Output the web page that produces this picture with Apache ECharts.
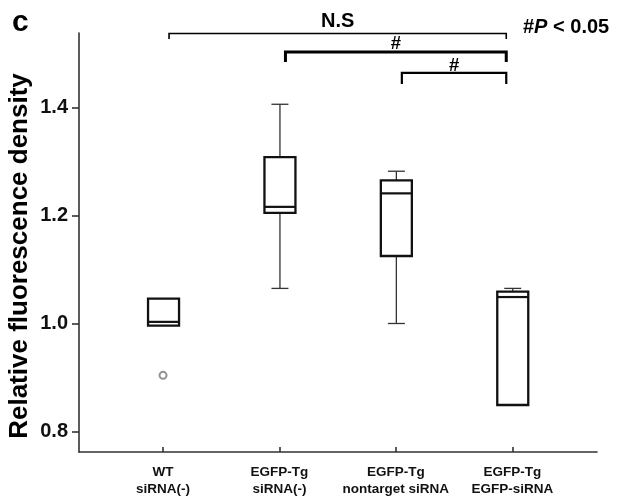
<!DOCTYPE html>
<html>
<head>
<meta charset="utf-8">
<script src="https://cdn.jsdelivr.net/npm/echarts@6/dist/echarts.min.js"></script>
<style>
html, body { margin: 0; padding: 0; background: #fff; }
#chart { width: 619px; height: 496px; }
</style>
</head>
<body>
<div id="chart"></div>
<script>
var groups = ['WT\nsiRNA(-)', 'EGFP-Tg\nsiRNA(-)', 'EGFP-Tg\nnontarget siRNA', 'EGFP-Tg\nEGFP-siRNA'];
// min, Q1, median, Q3, max
var boxStats = [
    [0.996, 0.996, 1.003, 1.046, 1.046],
    [1.065, 1.205, 1.216, 1.308, 1.406],
    [1.000, 1.125, 1.241, 1.265, 1.282],
    [0.849, 0.849, 1.049, 1.059, 1.065]
];
var outliers = [[0, 0.904]];
var yTicks = [0.8, 1.0, 1.2, 1.4];
// from group, to group, level
var brackets = [[0, 3, 1.537], [1, 3, 1.503], [2, 3, 1.464]];
var bracketLabels = ['N.S', '#', '#'];

var FONT = '"Liberation Sans", Arial, Helvetica, sans-serif';
var groupTicks = groups.map(function (g, i) { return i; });

// line width, drop, label gap, label font
var bracketStyle = [
    { width: 1.6, drop: 5.5, gap: 12.5, font: 'bold 20px ' + FONT },
    { width: 3, drop: 10, gap: 8, font: 'bold 18.5px ' + FONT },
    { width: 2.2, drop: 11, gap: 7.3, font: 'bold 18.5px ' + FONT }
];

var dom = document.getElementById('chart');
var myChart = echarts.init(dom);

function renderBox(params, api) {
    var x = api.value(0);
    var pMin = api.coord([x, api.value(1)]);
    var pQ1 = api.coord([x, api.value(2)]);
    var pMed = api.coord([x, api.value(3)]);
    var pQ3 = api.coord([x, api.value(4)]);
    var pMax = api.coord([x, api.value(5)]);
    var cx = pQ1[0] + 0.5;
    var hw = 15.5, cw = 8.5;
    var whisker = { stroke: '#333', lineWidth: 1.3 };
    var children = [];
    if (pMax[1] < pQ3[1] - 0.5) {
        children.push({ type: 'line', shape: { x1: cx, y1: pQ3[1], x2: cx, y2: pMax[1] }, style: whisker });
        children.push({ type: 'line', shape: { x1: cx - cw, y1: pMax[1], x2: cx + cw, y2: pMax[1] }, style: whisker });
    }
    if (pMin[1] > pQ1[1] + 0.5) {
        children.push({ type: 'line', shape: { x1: cx, y1: pQ1[1], x2: cx, y2: pMin[1] }, style: whisker });
        children.push({ type: 'line', shape: { x1: cx - cw, y1: pMin[1], x2: cx + cw, y2: pMin[1] }, style: whisker });
    }
    children.push({
        type: 'rect',
        shape: { x: cx - hw, y: pQ3[1], width: hw * 2, height: pQ1[1] - pQ3[1] },
        style: { fill: 'rgba(0,0,0,0)', stroke: '#111', lineWidth: 2.3 }
    });
    children.push({
        type: 'line',
        shape: { x1: cx - hw, y1: pMed[1], x2: cx + hw, y2: pMed[1] },
        style: { stroke: '#111', lineWidth: 2.2 }
    });
    return { type: 'group', children: children };
}

function renderBracket(params, api) {
    var i = params.dataIndex;
    var st = bracketStyle[i];
    var a = api.coord([api.value(0), api.value(2)]);
    var b = api.coord([api.value(1), api.value(2)]);
    var x1 = a[0] + 6, x2 = b[0] - 6, y = a[1];
    return {
        type: 'group',
        children: [{
            type: 'polyline',
            shape: { points: [[x1, y + st.drop], [x1, y], [x2, y], [x2, y + st.drop]] },
            style: { stroke: '#000', fill: null, lineWidth: st.width, lineJoin: 'miter' }
        }, {
            type: 'text',
            style: {
                text: bracketLabels[i], x: (x1 + x2) / 2, y: y - st.gap,
                align: 'center', verticalAlign: 'middle', font: st.font, fill: '#000'
            }
        }]
    };
}

option = {
    animation: false,
    backgroundColor: '#fff',
    grid: { left: 79, right: 22, top: 33, bottom: 44, outerBoundsMode: 'none' },
    xAxis: {
        type: 'value',
        min: -0.722,
        max: 3.728,
        splitLine: { show: false },
        axisLine: { show: true, onZero: false, lineStyle: { color: '#333', width: 1.6 } },
        axisTick: { show: true, inside: true, length: 5, customValues: groupTicks, lineStyle: { color: '#333', width: 1.6 } },
        axisLabel: {
            customValues: groupTicks,
            formatter: function (v) { return groups[Math.round(v)]; },
            fontFamily: FONT, fontSize: 13.5, fontWeight: 'bold', lineHeight: 17.6,
            color: '#111', margin: 11
        }
    },
    yAxis: {
        type: 'value',
        min: 0.762,
        max: 1.538,
        splitLine: { show: false },
        axisLine: { show: true, onZero: false, lineStyle: { color: '#333', width: 1.6 } },
        axisTick: { show: true, length: 7, customValues: yTicks, lineStyle: { color: '#333', width: 1.6 } },
        axisLabel: {
            customValues: yTicks,
            formatter: function (v) { return v.toFixed(1); },
            fontFamily: FONT, fontSize: 20, fontWeight: 'bold', color: '#111', margin: 11
        }
    },
    graphic: [{
        type: 'text', x: 20, y: 256, rotation: Math.PI / 2,
        style: { text: 'Relative fluorescence density', align: 'center', verticalAlign: 'middle',
                 font: 'bold 26px ' + FONT, fill: '#000' }
    }, {
        type: 'text', x: 12, y: 23,
        style: { text: 'c', align: 'left', verticalAlign: 'middle', font: 'bold 30px ' + FONT, fill: '#000' }
    }, {
        type: 'text', x: 523, y: 27,
        style: {
            text: '{a|#}{b|P}{a| < 0.05}', align: 'left', verticalAlign: 'middle',
            rich: {
                a: { fontFamily: FONT, fontSize: 20, fontWeight: 'bold', fill: '#000' },
                b: { fontFamily: FONT, fontSize: 20, fontWeight: 'bold', fontStyle: 'italic', fill: '#000' }
            }
        }
    }],
    series: [{
        name: 'box',
        type: 'custom',
        renderItem: renderBox,
        encode: { x: 0, y: [1, 2, 3, 4, 5] },
        data: boxStats.map(function (s, i) { return [i].concat(s); }),
        z: 3
    }, {
        name: 'outlier',
        type: 'scatter',
        symbol: 'emptyCircle',
        symbolSize: 7,
        itemStyle: { color: '#777', borderWidth: 1.5 },
        data: outliers,
        z: 4
    }, {
        name: 'brackets',
        type: 'custom',
        renderItem: renderBracket,
        encode: { x: [0, 1], y: 2 },
        clip: false,
        data: brackets,
        z: 5
    }]
};

if (option && typeof option === "object") {
    myChart.setOption(option, true);
}
</script>
</body>
</html>
